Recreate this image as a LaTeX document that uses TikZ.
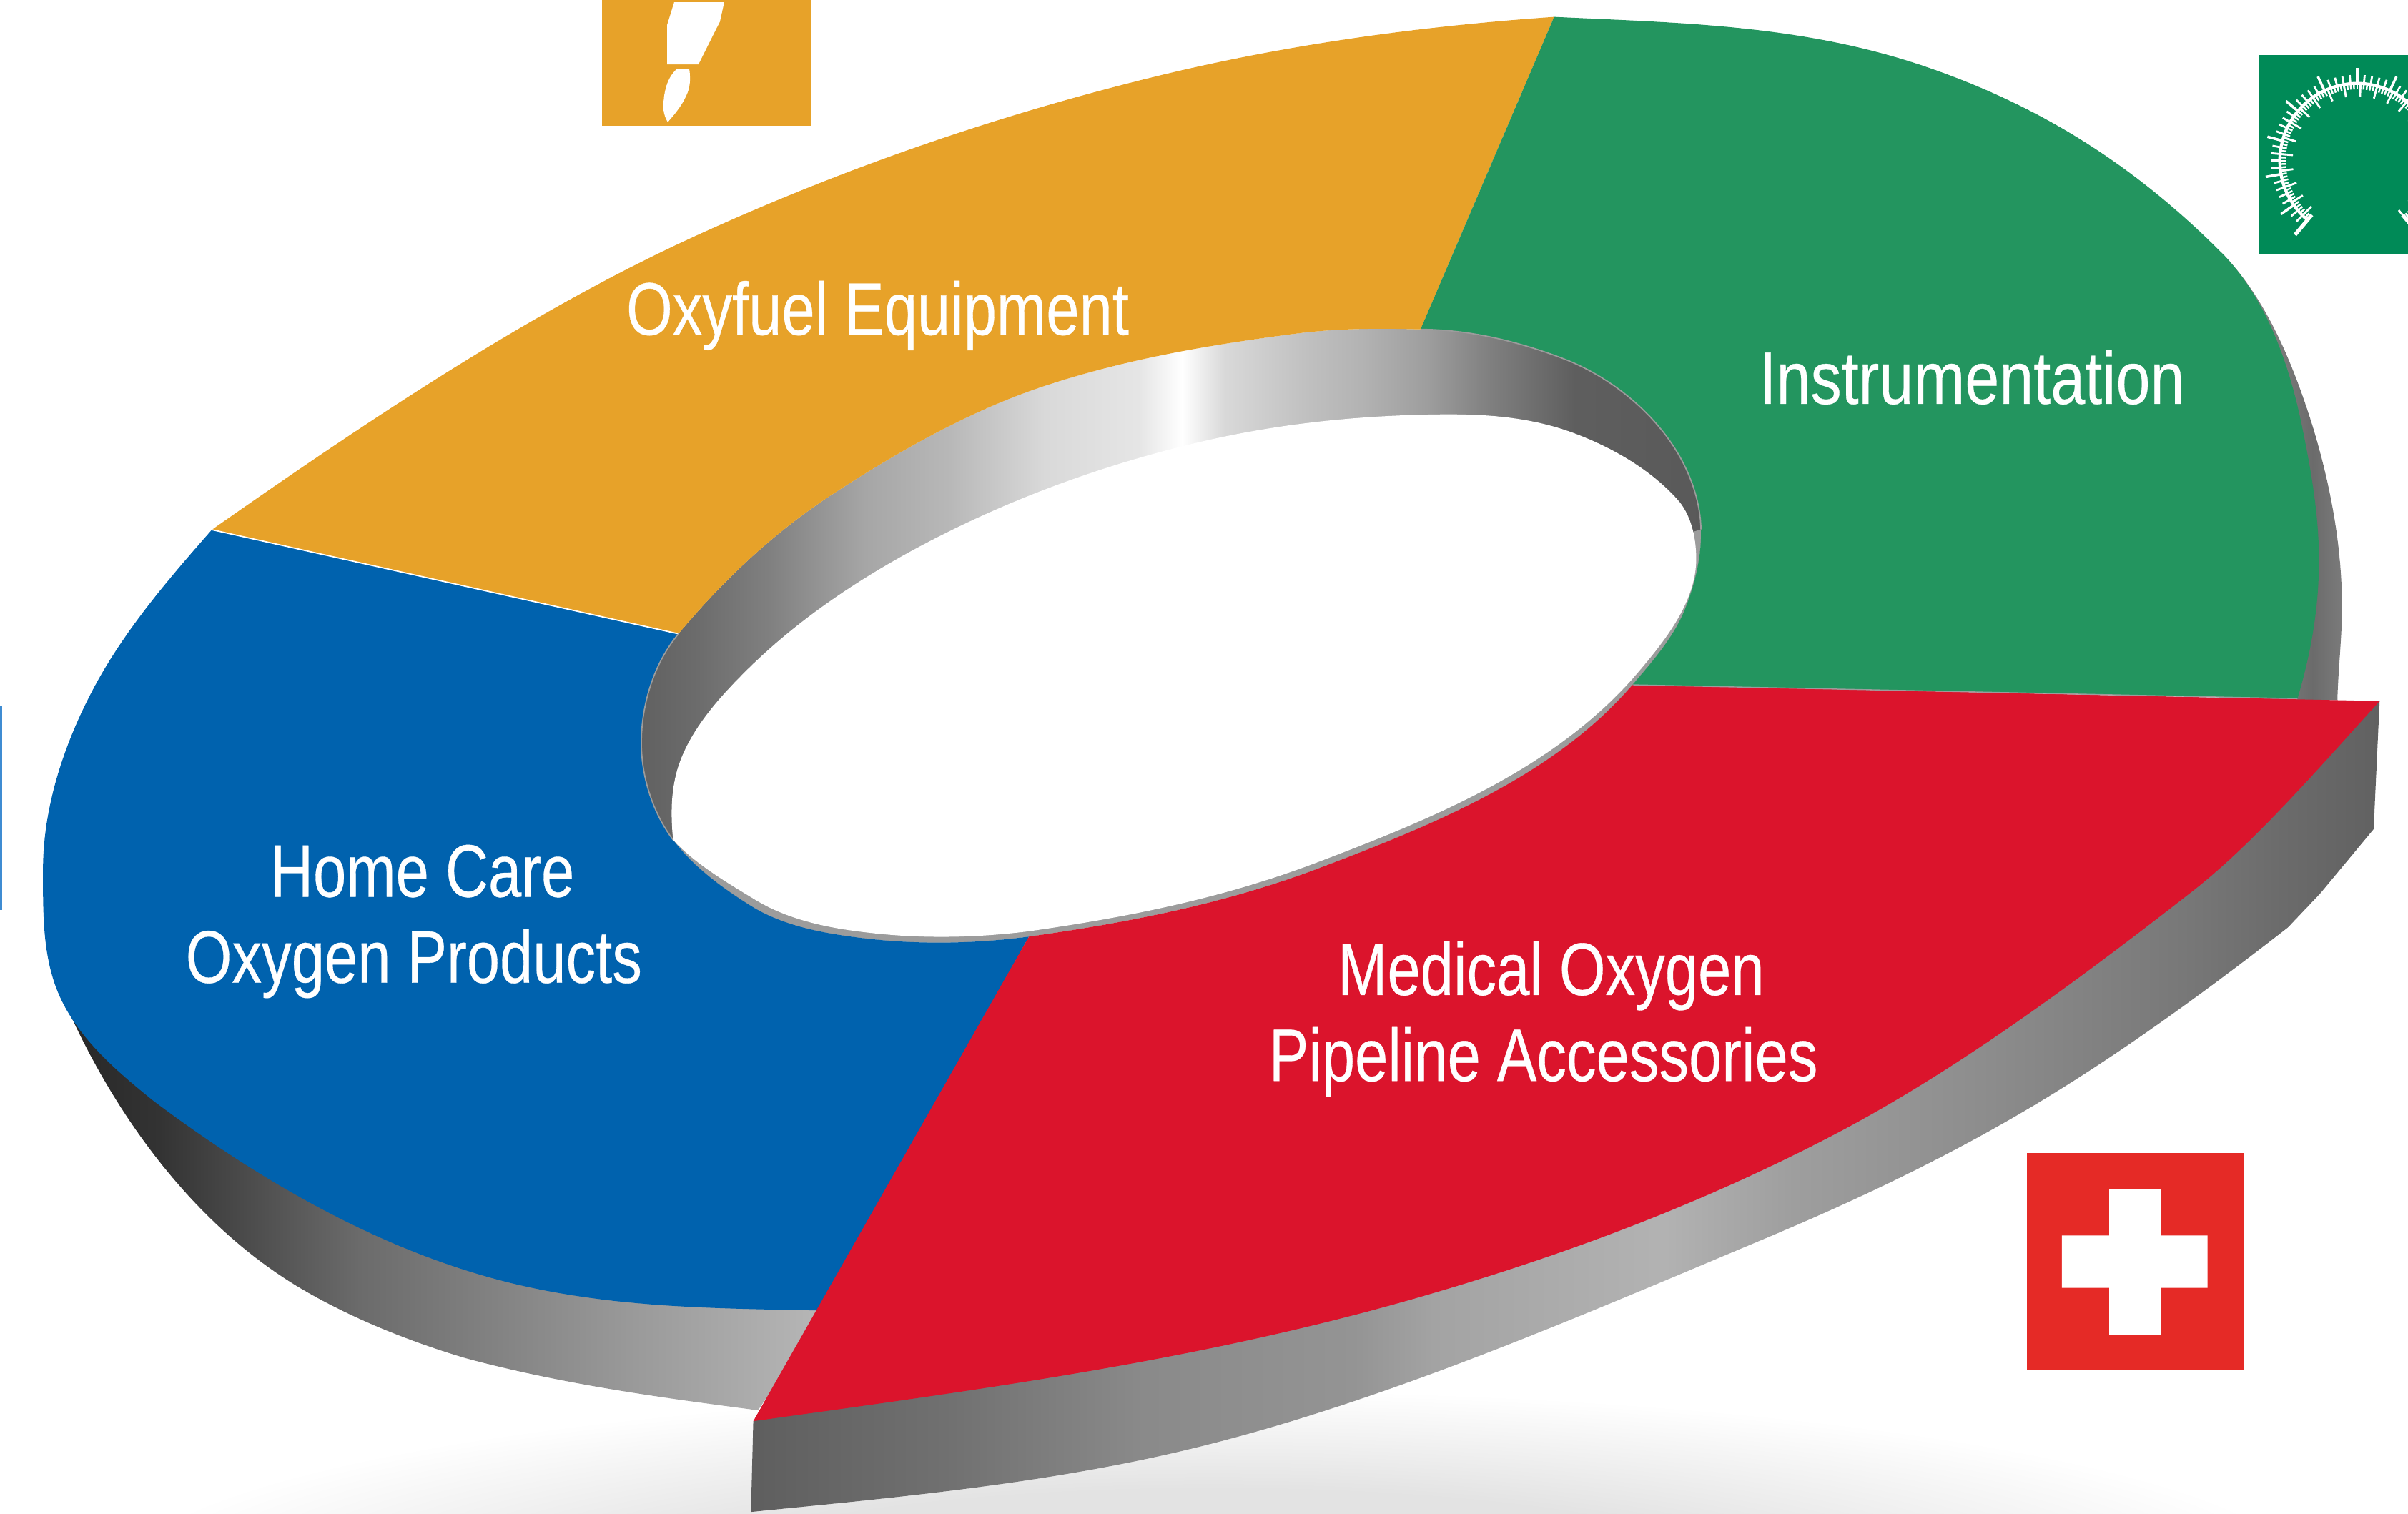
\documentclass[tikz,border=0pt]{standalone}
\usepackage{graphicx}
\usepackage{fontspec}
\setmainfont[FakeBold=0.35]{Liberation Sans}
\definecolor{cOrange}{HTML}{E7A229}
\definecolor{cGreen}{HTML}{23955F}
\definecolor{cBlue}{HTML}{0062AE}
\definecolor{cRed}{HTML}{DB142C}
\definecolor{cIconRed}{HTML}{E52A26}
\definecolor{cIconGreen}{HTML}{008A57}
\definecolor{cStrip}{HTML}{3F8CD2}
\definecolor{cRim}{HTML}{9C9C9C}
\pgfdeclarehorizontalshading{wallLeft}{100bp}{gray(0bp)=(.15);gray(25bp)=(.15);gray(31.5bp)=(.2);gray(44.5bp)=(.42);gray(62bp)=(.6);gray(75bp)=(.72);gray(100bp)=(.72)}
\pgfdeclarehorizontalshading{wallFront}{100bp}{gray(0bp)=(.37);gray(25bp)=(.37);gray(31bp)=(.44);gray(37bp)=(.54);gray(43.5bp)=(.58);gray(46bp)=(.64);gray(53bp)=(.70);gray(57bp)=(.62);gray(63bp)=(.55);gray(69bp)=(.47);gray(72bp)=(.42);gray(75bp)=(.38);gray(100bp)=(.38)}
\pgfdeclarehorizontalshading{wallRight}{100bp}{gray(0bp)=(.55);gray(25bp)=(.55);gray(50bp)=(.5);gray(65bp)=(.42);gray(75bp)=(.48);gray(100bp)=(.48)}
\pgfdeclarehorizontalshading{wallInner}{100bp}{gray(0bp)=(.38);gray(25bp)=(.38);gray(27.5bp)=(.42);gray(31bp)=(.5);gray(35.5bp)=(.65);gray(39.5bp)=(.72);gray(44bp)=(.85);gray(48.5bp)=(.9);gray(50.5bp)=(1);gray(52.5bp)=(.85);gray(56.5bp)=(.75);gray(59bp)=(.7);gray(62bp)=(.62);gray(65bp)=(.5);gray(67.5bp)=(.42);gray(69bp)=(.37);gray(75bp)=(.35);gray(100bp)=(.35)}
\pgfdeclareradialshading{floorGlow}{\pgfpointorigin}{gray(0bp)=(.89);gray(12bp)=(.89);gray(25bp)=(1);gray(50bp)=(1)}
\tikzset{
  label text/.style={text=white,inner sep=0pt,anchor=base,font=\fontsize{29.6}{34}\selectfont},
  tick/.style={white,line width=.8pt},
}
\newcommand{\cnd}[2][.8]{\scalebox{#1}[1]{#2}}
% inner edge of the top surface
\def\upperInner{.. controls (475.5,372.4) and (509.3,343.2) .. (543,321.3) .. controls (588.7,291.6) and (634.3,266.5) .. (680,251.4) .. controls (734.5,233.4) and (789.1,224.4) .. (843.6,217.3) .. controls (870.6,213.8) and (898,213.7) .. (925,214.5)}
\def\greenInner{.. controls (955.8,214.6) and (986.7,221.7) .. (1017.5,233.4) .. controls (1045.6,244) and (1072.3,264.6) .. (1089,289.6) .. controls (1099.8,305.7) and (1107.2,325.4) .. (1107.6,344.8) .. controls (1108,362.4) and (1103.8,380.1) .. (1097.3,396.5) .. controls (1089.9,415.1) and (1076,430.8) .. (1063,446)}
\def\redInner{.. controls (1012.1,505.5) and (932.7,537.4) .. (860,565) .. controls (797,589) and (733,601) .. (670,610)}
\def\blueInnerRev{.. controls (634,614.7) and (598,615.3) .. (562,611) .. controls (537,608) and (510.3,603.3) .. (489,590) .. controls (470.3,578.3) and (451.5,564.6) .. (438.3,547) .. controls (425.1,529.4) and (417.6,506) .. (417.6,483.8) .. controls (417.6,458.8) and (425.8,432) .. (441.8,412.8)}
\def\blueInnerFwd{.. controls (425.8,432) and (417.6,458.8) .. (417.6,483.8) .. controls (417.6,506) and (425.1,529.4) .. (438.3,547) .. controls (451.5,564.6) and (470.3,578.3) .. (489,590) .. controls (510.3,603.3) and (537,608) .. (562,611) .. controls (598,615.3) and (634,614.7) .. (670,610)}
\begin{document}
\begin{tikzpicture}[x=0.0214796cm,y=-0.0214796cm]
\useasboundingbox (0,0) rectangle (1568,985.6);
\fill[white] (0,0) rectangle (1568,985.6);
\begin{scope}
\clip (0,0) rectangle (1568,985.6);
% floor shadow
\shade[shading=floorGlow] (790,1030) ellipse [x radius=720,y radius=125];
% left strip
\fill[cStrip] (0,459.5) rectangle (1.2,592.8);
% icons
\fill[cOrange] (392,0) rectangle (528,82);
\fill[white] (439,1.4) -- (471.6,1.4) -- (468.8,14) -- (454.8,41.9) -- (434.4,41.9) -- (434.4,16.3) -- cycle;
\fill[white] (440.7,45) -- (448.8,45) .. controls (450,52) and (449,58) .. (447,62) .. controls (444,69) and (438,76) .. (434.8,79.5) .. controls (432,75) and (431.5,70) .. (432.2,65) .. controls (433,56) and (436,49) .. (440.7,45) -- cycle;
\fill[cIconGreen] (1470.7,35.7) rectangle (1568,165.7);
\def\cx{1534.9}\def\cy{104.7}
\draw[white,line width=1.2pt] plot[domain=-50:230,samples=70] ({\cx+50.4*cos(\x)},{\cy-50.4*sin(\x)});
\foreach \a in {-50,-45,...,230}
  \draw[tick] ({\cx+50.4*cos(\a)},{\cy-50.4*sin(\a)}) -- ({\cx+56*cos(\a)},{\cy-56*sin(\a)});
\foreach \a in {-35,-10,...,215}
  \draw[tick,line width=1pt] ({\cx+50.4*cos(\a)},{\cy-50.4*sin(\a)}) -- ({\cx+60.5*cos(\a)},{\cy-60.5*sin(\a)});
\foreach \a in {-50,-47.5,...,230}
  \draw[tick,line width=.7pt] ({\cx+50.4*cos(\a)},{\cy-50.4*sin(\a)}) -- ({\cx+46.5*cos(\a)},{\cy-46.5*sin(\a)});
\foreach \a in {-50,-37.5,...,230}
  \draw[tick] ({\cx+50.4*cos(\a)},{\cy-50.4*sin(\a)}) -- ({\cx+42*cos(\a)},{\cy-42*sin(\a)});
\foreach \a in {230,-50}
  \draw[white,line width=1.5pt] ({\cx+46*cos(\a)},{\cy-46*sin(\a)}) -- ({\cx+63*cos(\a)},{\cy-63*sin(\a)});
\fill[cIconRed] (1319.8,751) rectangle (1460.7,892.3);
\fill[white] (1373.4,774.3) -- (1407.2,774.3) -- (1407.2,804.6) -- (1437.5,804.6) -- (1437.5,838.8) -- (1407.2,838.8) -- (1407.2,869.3) -- (1373.4,869.3) -- (1373.4,838.8) -- (1342.6,838.8) -- (1342.6,804.6) -- (1373.4,804.6) -- cycle;
% outer walls
\shade[shading=wallLeft] (540,850) -- (100,640) -- (38.8,645) .. controls (70.8,721) and (123,795) .. (194,838) .. controls (227.4,858) and (265.6,873.3) .. (303,884.5) .. controls (366.5,901.6) and (430,910.2) .. (493.6,918.5) -- cycle;
\shade[shading=wallRight] (1445.9,163.9) .. controls (1475,193) and (1493,236) .. (1506.4,279.3) .. controls (1518,318) and (1525,357) .. (1525,395.7) .. controls (1525,415) and (1522.5,436) .. (1522,456) -- (1470,456) -- (1430,300) -- cycle;
\shade[shading=wallFront] (490.5,925.6) -- (489,984.7) .. controls (574.3,976.2) and (659.7,968.4) .. (745,950.5) .. controls (879,922.4) and (1013.4,863.7) .. (1147.7,807.3) .. controls (1207,782.4) and (1266.5,754.6) .. (1325.9,719) .. controls (1380.5,686.2) and (1435.2,646.6) .. (1489.8,604) -- (1510.7,582) -- (1545.6,540) -- (1549.5,456.6) -- cycle;
% inner wall + rim + hole
\shade[shading=wallInner] (441.8,412.8) \upperInner \greenInner \redInner \blueInnerRev -- cycle;
\fill[cRim] (1107.6,344.8) .. controls (1108,362.4) and (1103.8,380.1) .. (1097.3,396.5) .. controls (1089.9,415.1) and (1076,430.8) .. (1063,446) \redInner .. controls (634,614.7) and (598,615.3) .. (562,611) .. controls (537,608) and (510.3,603.3) .. (489,590) .. controls (470.3,578.3) and (451.5,564.6) .. (438.3,547) -- cycle;
\fill[white] (438.3,547) .. controls (436.7,531) and (436.8,515.3) .. (441.4,500) .. controls (449,476) and (467.3,455.4) .. (485,437.7) .. controls (522.3,400.4) and (567.9,371.2) .. (615,347.6) .. controls (669.4,320.4) and (723.8,301.7) .. (778.2,288.6) .. controls (829.2,276.4) and (880,271) .. (931,270) .. controls (962.6,269.4) and (994.3,270.5) .. (1025.9,282.5) .. controls (1050.2,291.7) and (1074.6,305.8) .. (1092,325) .. controls (1101.2,335) and (1104.5,350.3) .. (1104.5,364) .. controls (1104.5,393) and (1082.4,419.5) .. (1063.5,441.5) .. controls (1010,502) and (930.7,533.9) .. (858,561.5) .. controls (795,585.5) and (733,597.5) .. (670,606.5) .. controls (634,611) and (598,611.5) .. (562,607) .. controls (537,604) and (512,598.5) .. (491,585.5) .. controls (472,574) and (452,562) .. (438.3,547) -- cycle;
% top surface
\fill[cOrange] (441.8,412.8) \upperInner -- (1012,11) .. controls (928,16.9) and (844,28) .. (760,48) .. controls (656.7,72.8) and (553.3,107.5) .. (450,155) .. controls (346,202.8) and (242,272.2) .. (138,345) -- cycle;
\fill[cGreen] (1012,11) -- (925,214.5) \greenInner -- (1496,455) .. controls (1505,425) and (1510,395) .. (1510,365) .. controls (1510,336) and (1505,307) .. (1499.3,279.3) .. controls (1491,238) and (1475.9,193.9) .. (1445.9,163.9) .. controls (1383,100.9) and (1320,66.5) .. (1257,44.5) .. controls (1175,15.8) and (1094,15) .. (1012,11) -- cycle;
\fill[cBlue] (138,345) -- (441.8,412.8) \blueInnerFwd -- (534,853.5) .. controls (470.3,852.2) and (406.7,852) .. (343,838) .. controls (262,820.2) and (181,777.75) .. (100,717) .. controls (76,697.6) and (51.3,676.6) .. (38.8,648.7) .. controls (27.5,623.6) and (28,594) .. (28,566.5) .. controls (28,523.5) and (43.4,479.5) .. (64.4,442) .. controls (84.3,406.7) and (111.2,375.5) .. (138,345) -- cycle;
\fill[cRed] (1063,446) \redInner -- (490.5,925.6) .. controls (635.5,905.3) and (780,886.6) .. (925,844.6) .. controls (1014,818.8) and (1103.3,786.3) .. (1192.3,740) .. controls (1270,699.6) and (1347.8,642.7) .. (1425.6,582) .. controls (1467,550) and (1508.2,502) .. (1549.5,456.6) -- cycle;
% fine edge lines
\draw[white,line width=.5pt] (138,345) -- (441.8,412.8);
\draw[cRim,line width=.5pt] (441.8,412.8) .. controls (425.8,432) and (417.6,458.8) .. (417.6,483.8) .. controls (417.6,506) and (425.1,529.4) .. (438.3,547);
\draw[cRim,line width=.5pt] (925,214.5) .. controls (955.8,214.6) and (986.7,221.7) .. (1017.5,233.4) .. controls (1045.6,244) and (1072.3,264.6) .. (1089,289.6) .. controls (1099.8,305.7) and (1107.2,325.4) .. (1107.6,344.8);
\draw[cRim,line width=.4pt] (1063,446) -- (1496,455);
\end{scope}
% labels
\node[label text] (oxyfuel) at (571.5,218) {\cnd{Oxyfuel Equipment}};
\node[label text] (instr) at (1284,263) {\cnd[.83]{Instrumentation}};
\node[label text] (home) at (275,584) {\cnd{Home Care}};
\node[label text] (oxyprod) at (269.5,640) {\cnd{Oxygen Products}};
\node[label text] (medical) at (1010,648) {\cnd{Medical Oxygen}};
\node[label text] (pipeline) at (1005,704) {\cnd{Pipeline Accessories}};
\end{tikzpicture}
\end{document}
